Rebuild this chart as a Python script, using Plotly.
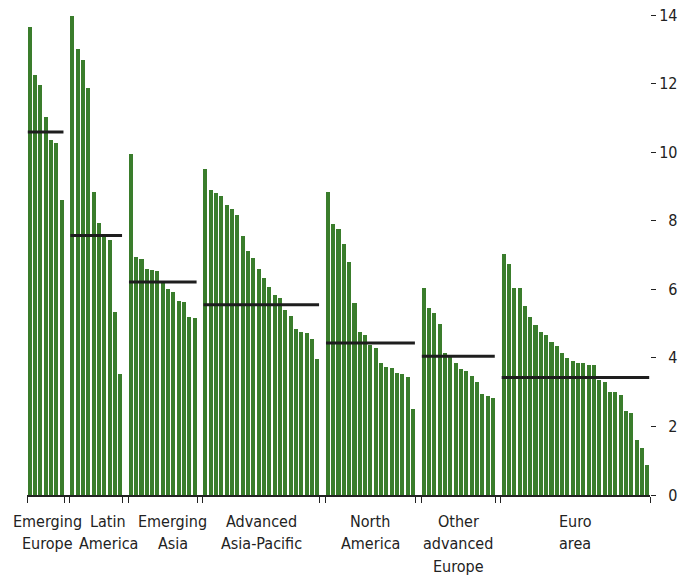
import plotly.graph_objects as go

group_labels = ["Emerging<br>Europe", "Latin<br>America", "Emerging<br>Asia",
                "Advanced<br>Asia-Pacific", "North<br>America",
                "Other<br>advanced<br>Europe", "Euro<br>area"]

emerging_europe = [13.65, 12.24, 11.97, 11.03, 10.35, 10.28, 8.60]
latin_america = [13.97, 13.00, 12.70, 11.86, 8.83, 7.92, 7.53, 7.45, 5.34, 3.53]
emerging_asia = [9.96, 6.95, 6.87, 6.60, 6.56, 6.54, 6.22, 6.00, 5.93, 5.66, 5.62, 5.20, 5.15]
advanced_asia_pacific = [9.52, 8.89, 8.80, 8.72, 8.47, 8.33, 8.18, 7.56, 7.12, 6.90, 6.58,
                         6.32, 6.07, 5.82, 5.74, 5.39, 5.23, 4.84, 4.76, 4.73, 4.54, 3.96]
north_america = [8.83, 7.90, 7.75, 7.32, 6.81, 5.61, 4.74, 4.68, 4.37, 4.29, 3.84,
                 3.73, 3.71, 3.55, 3.52, 3.45, 2.52]
other_advanced_europe = [6.03, 5.45, 5.30, 4.99, 4.14, 4.03, 3.86, 3.67, 3.62, 3.48,
                         3.30, 2.94, 2.88, 2.83]
euro_area = [7.03, 6.73, 6.04, 6.03, 5.52, 5.19, 4.95, 4.76, 4.68, 4.47, 4.36, 4.15,
             4.01, 3.92, 3.85, 3.85, 3.79, 3.78, 3.35, 3.29, 3.00, 2.99, 2.92, 2.45,
             2.39, 1.60, 1.37, 0.87]

group_averages = [10.59, 7.57, 6.21, 5.55, 4.43, 4.05, 3.43]

y_tick_values = [0, 2, 4, 6, 8, 10, 12, 14]
y_tick_labels = ["  0", "  2", "  4", "  6", "  8", "10", "12", "14"]

series = [emerging_europe, latin_america, emerging_asia, advanced_asia_pacific,
          north_america, other_advanced_europe, euro_area]

GREEN = "#3A7D2C"
label_xshift = [2, 12, 10, 0, 0, 0, 0]

fig = go.Figure()
bar_x, bar_y = [], []
boundaries = []
spans = []
pos = 0
for vals in series:
    start = pos
    for v in vals:
        bar_x.append(pos)
        bar_y.append(v)
        pos += 1
    end = pos - 1
    spans.append((start, end))
    boundaries += [start - 0.5, end + 0.5]
    pos += 1  # gap slot between groups

fig.add_trace(go.Bar(x=bar_x, y=bar_y, width=0.76,
                     marker=dict(color=GREEN, line=dict(width=0)),
                     showlegend=False, hoverinfo="skip"))

for (start, end), avg in zip(spans, group_averages):
    fig.add_trace(go.Scatter(x=[start - 0.35, end + 0.35], y=[avg, avg], mode="lines",
                             line=dict(color="#1e1e1e", width=3),
                             showlegend=False, hoverinfo="skip"))

FONT = "DejaVu Sans Condensed, Liberation Sans Narrow, sans-serif"

for (start, end), label, xs in zip(spans, group_labels, label_xshift):
    for i, line in enumerate(label.split("<br>")):
        fig.add_annotation(x=(start + end) / 2, y=0, xref="x", yref="paper",
                           yanchor="middle", xanchor="center",
                           yshift=-(26 + 22.5 * i), xshift=xs,
                           text=line, showarrow=False, align="center",
                           font=dict(family=FONT, size=16, color="#222222"))

total = pos - 1
fig.update_layout(
    width=694, height=575,
    margin=dict(l=27, r=44, t=15, b=80),
    plot_bgcolor="white", paper_bgcolor="white",
    bargap=0,
    xaxis=dict(range=[-0.5, total - 0.5], showgrid=False, zeroline=False,
               showline=True, linecolor="#222222", linewidth=1.5, automargin=False,
               tickmode="array", tickvals=boundaries, ticktext=[""] * len(boundaries),
               ticks="outside", ticklen=6, tickcolor="#222222", tickwidth=1.2),
    yaxis=dict(range=[0, 14], side="right", showgrid=False, zeroline=False,
               showline=False, automargin=False, tickmode="array",
               tickvals=y_tick_values,
               ticktext=y_tick_labels, ticks="outside", ticklen=5,
               tickcolor="#222222", tickwidth=1.2,
               tickfont=dict(family=FONT, size=16, color="#222222")),
)

fig.write_html("out.html", config={"displayModeBar": False},
               post_script="document.body.style.margin='0';")
